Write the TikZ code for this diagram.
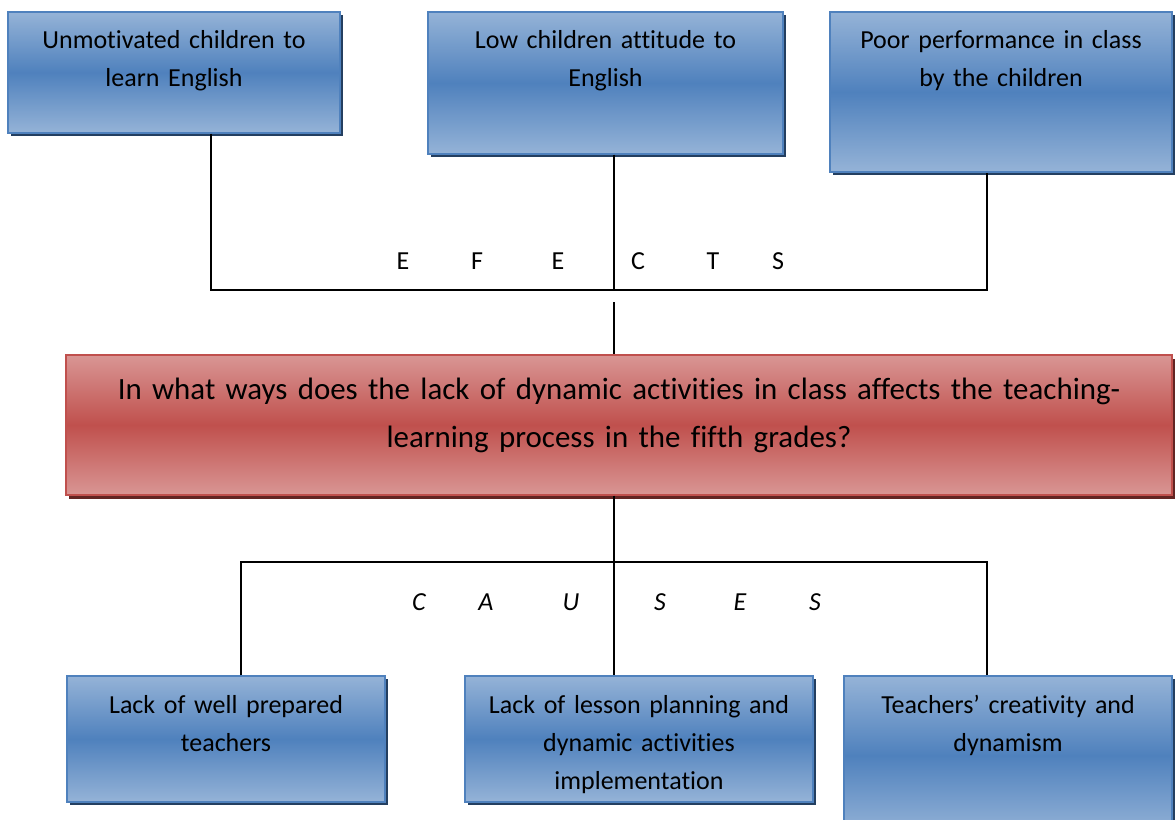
\documentclass[tikz,border=0pt]{standalone}
\usepackage{fontspec}
\setmainfont{Carlito}[Ligatures=NoCommon]
\usetikzlibrary{shadows}
\definecolor{bluelight}{RGB}{149,179,215}
\definecolor{bluemid}{RGB}{79,129,189}
\definecolor{blueshadow}{RGB}{36,63,96}
\definecolor{redlight}{RGB}{217,150,148}
\definecolor{redmid}{RGB}{192,80,77}
\definecolor{redshadow}{RGB}{99,37,35}
\tikzset{
  bluebox/.style={rectangle, inner sep=0pt, draw=bluemid, line width=1.1pt,
    top color=bluelight, bottom color=bluelight, middle color=bluemid,
    drop shadow={shadow xshift=2.5pt, shadow yshift=-2.5pt, fill=blueshadow, opacity=1}},
  redbox/.style={rectangle, inner sep=0pt, draw=redmid, line width=1.1pt,
    top color=redlight, bottom color=redlight, middle color=redmid,
    drop shadow={shadow xshift=2.5pt, shadow yshift=-3pt, fill=redshadow, opacity=1}},
  boxtext/.style={anchor=base, align=center, inner sep=0pt,
    font=\fontsize{19.5pt}{28.5pt}\selectfont},
  bigtext/.style={anchor=base, align=center, inner sep=0pt,
    font=\fontsize{23.2pt}{36pt}\selectfont},
  letter/.style={anchor=base, inner sep=0pt, font=\fontsize{19.5pt}{28.5pt}\selectfont},
  iletter/.style={letter, font=\fontsize{19.5pt}{28.5pt}\selectfont\itshape},
  conn/.style={draw=black, line width=1.3pt}
}
\begin{document}
\begin{tikzpicture}[x=0.75pt,y=-0.75pt]
\clip (0,0) rectangle (1175,819);
\fill[white] (0,0) rectangle (1175,819);
% effect boxes
\node[bluebox, minimum width=249pt, minimum height=90.75pt] (box1) at (174,72.5) {};
\node[bluebox, minimum width=266.25pt, minimum height=106.5pt] (box2) at (605.5,83) {};
\node[bluebox, minimum width=256.5pt, minimum height=120pt] (box3) at (1001,92) {};
% central question
\node[redbox, minimum width=829.5pt, minimum height=105pt] (q) at (619,425) {};
% cause boxes
\node[bluebox, minimum width=238.5pt, minimum height=94.5pt] (c1) at (226,739) {};
\node[bluebox, minimum width=261pt, minimum height=94.5pt] (c2) at (639,739) {};
\node[bluebox, minimum width=246pt, minimum height=119.25pt] (c3) at (1008,755.5) {};
% texts
\node[boxtext, text width=240pt] (t1) at (174,48) {Unmotivated children to\\learn English};
\node[boxtext, text width=250pt] (t2) at (605.5,48) {Low children attitude to\\English};
\node[boxtext, text width=250pt] (t3) at (1001,48) {Poor performance in class\\by the children};
\node[bigtext, text width=800pt] (tq) at (619,399) {In what ways does the lack of dynamic activities in class affects the teaching-\\learning process in the fifth grades?};
\node[boxtext, text width=235pt] (tc1) at (226,713) {Lack of well prepared\\teachers};
\node[boxtext, text width=255pt] (tc2) at (639,713) {Lack of lesson planning and\\dynamic activities\\implementation};
\node[boxtext, text width=240pt] (tc3) at (1008,713) {Teachers’ creativity and\\dynamism};
% connector coordinates
\coordinate (e1) at (211,290);
\coordinate (e2) at (614,290);
\coordinate (e3) at (987,290);
\coordinate (g) at (614,302);
\coordinate (k1) at (241,562);
\coordinate (k2) at (614,562);
\coordinate (k3) at (987,562);
% effects connectors
\draw[conn] (box1.south -| e1) -- (e1) -- (e3) -- (box3.south -| e3);
\draw[conn] (box2.south -| e2) -- (e2);
\draw[conn] (g) -- (q.north -| g);
% causes connectors
\draw[conn] (q.south -| k2) -- (k2);
\draw[conn] (c1.north -| k1) -- (k1) -- (k3) -- (c3.north -| k3);
\draw[conn] (k2) -- (c2.north -| k2);
% EFFECTS letters
\node[letter] (l1) at (403,269) {E};
\node[letter] (l2) at (477,269) {F};
\node[letter] (l3) at (558,269) {E};
\node[letter] (l4) at (638,269) {C};
\node[letter] (l5) at (713,269) {T};
\node[letter] (l6) at (778,269) {S};
% CAUSES letters
\node[iletter] (m1) at (419,610) {C};
\node[iletter] (m2) at (486,610) {A};
\node[iletter] (m3) at (571,610) {U};
\node[iletter] (m4) at (660,610) {S};
\node[iletter] (m5) at (740,610) {E};
\node[iletter] (m6) at (815,610) {S};
\end{tikzpicture}
\end{document}
